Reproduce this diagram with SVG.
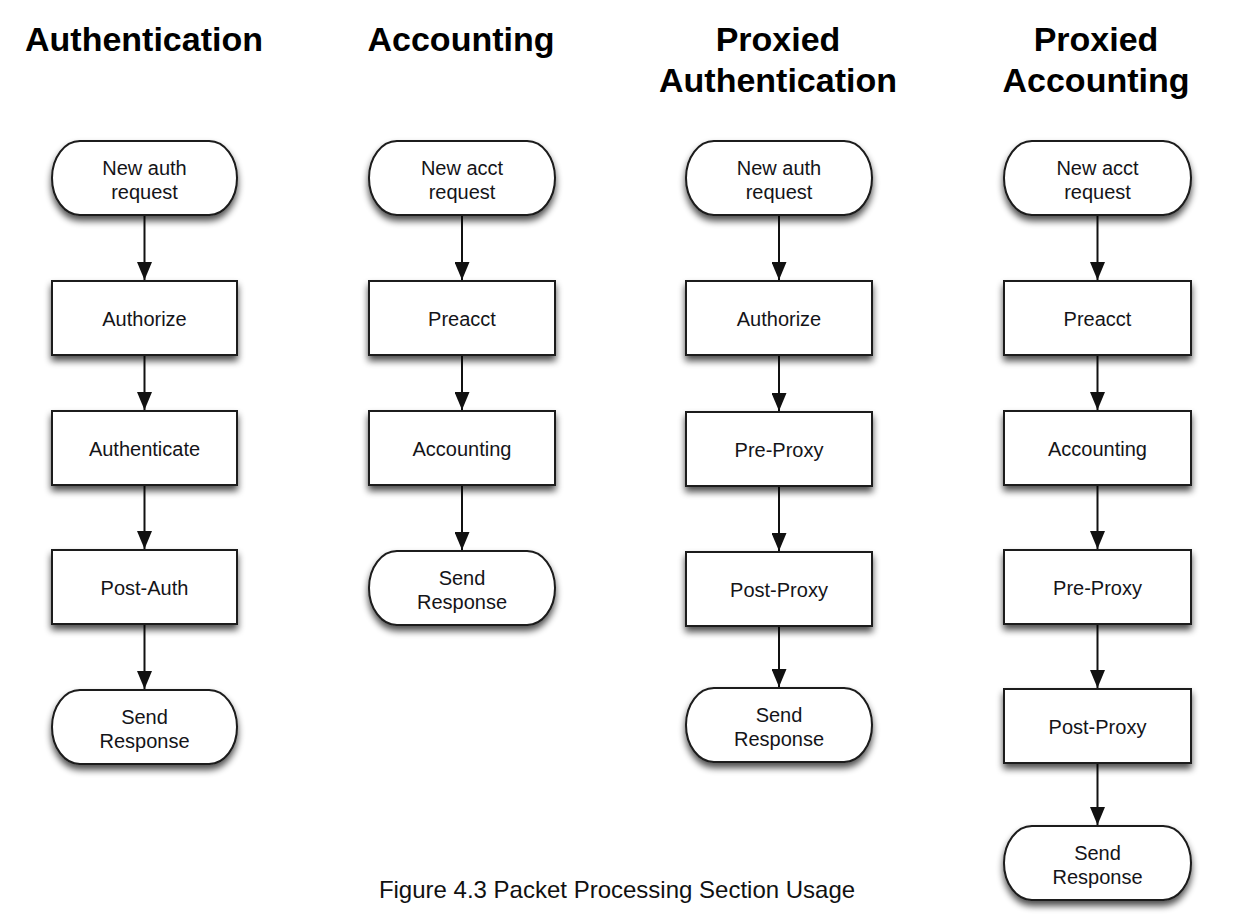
<svg xmlns="http://www.w3.org/2000/svg" width="1240" height="922" viewBox="0 0 1240 922">
<defs>
<filter id="sh" x="-10%" y="-20%" width="120%" height="150%">
<feGaussianBlur in="SourceAlpha" stdDeviation="3.5"/>
<feOffset dx="0" dy="5" result="b"/>
<feComponentTransfer><feFuncA type="linear" slope="0.7"/></feComponentTransfer>
<feMerge><feMergeNode/><feMergeNode in="SourceGraphic"/></feMerge>
</filter>
<marker id="arr" markerUnits="userSpaceOnUse" markerWidth="18" markerHeight="15" refX="18" refY="7.5" orient="auto">
<path d="M0,0 L18,7.5 L0,15 z" fill="#111"/>
</marker>
<style>
.box{fill:#fff;stroke:#1a1a1a;stroke-width:2;filter:url(#sh)}
.lbl{font-family:"Liberation Sans",Arial,Helvetica,sans-serif;font-size:20px;fill:#141418;text-anchor:middle}
.hd{font-family:"Liberation Sans",Arial,sans-serif;font-weight:bold;font-size:34px;fill:#000;text-anchor:middle}
.cap{font-family:"Liberation Sans",Arial,sans-serif;font-size:24px;fill:#111;text-anchor:middle}
.conn line{stroke:#111;stroke-width:2;marker-end:url(#arr)}
</style>
</defs>
<rect width="1240" height="922" fill="#fff"/>

<g id="headings">
<text class="hd" x="144" y="51">Authentication</text>
<text class="hd" x="461" y="51">Accounting</text>
<text class="hd" x="778" y="51">Proxied</text>
<text class="hd" x="778" y="92">Authentication</text>
<text class="hd" x="1096" y="51">Proxied</text>
<text class="hd" x="1096" y="92">Accounting</text>
</g>

<g id="connectors" class="conn">
<line x1="144.5" y1="215" x2="144.5" y2="280"/>
<line x1="144.5" y1="355" x2="144.5" y2="410"/>
<line x1="144.5" y1="485" x2="144.5" y2="549"/>
<line x1="144.5" y1="624" x2="144.5" y2="689"/>
<line x1="462" y1="215" x2="462" y2="280"/>
<line x1="462" y1="355" x2="462" y2="410"/>
<line x1="462" y1="485" x2="462" y2="550"/>
<line x1="779" y1="215" x2="779" y2="280"/>
<line x1="779" y1="355" x2="779" y2="411"/>
<line x1="779" y1="486" x2="779" y2="551"/>
<line x1="779" y1="626" x2="779" y2="687"/>
<line x1="1097.5" y1="215" x2="1097.5" y2="280"/>
<line x1="1097.5" y1="355" x2="1097.5" y2="410"/>
<line x1="1097.5" y1="485" x2="1097.5" y2="549"/>
<line x1="1097.5" y1="624" x2="1097.5" y2="688"/>
<line x1="1097.5" y1="763" x2="1097.5" y2="825"/>
</g>

<g id="auth-new">
<rect class="box" x="52" y="141" width="185" height="74" rx="28" ry="37"/>
<text class="lbl" x="144.5" y="175">New auth</text>
<text class="lbl" x="144.5" y="199">request</text>
</g>
<g id="auth-authorize">
<rect class="box" x="52" y="281" width="185" height="74"/>
<text class="lbl" x="144.5" y="326">Authorize</text>
</g>
<g id="auth-authenticate">
<rect class="box" x="52" y="411" width="185" height="74"/>
<text class="lbl" x="144.5" y="456">Authenticate</text>
</g>
<g id="auth-postauth">
<rect class="box" x="52" y="550" width="185" height="74"/>
<text class="lbl" x="144.5" y="595">Post-Auth</text>
</g>
<g id="auth-send">
<rect class="box" x="52" y="690" width="185" height="74" rx="28" ry="37"/>
<text class="lbl" x="144.5" y="724">Send</text>
<text class="lbl" x="144.5" y="748">Response</text>
</g>

<g id="acct-new">
<rect class="box" x="369" y="141" width="186" height="74" rx="28" ry="37"/>
<text class="lbl" x="462" y="175">New acct</text>
<text class="lbl" x="462" y="199">request</text>
</g>
<g id="acct-preacct">
<rect class="box" x="369" y="281" width="186" height="74"/>
<text class="lbl" x="462" y="326">Preacct</text>
</g>
<g id="acct-accounting">
<rect class="box" x="369" y="411" width="186" height="74"/>
<text class="lbl" x="462" y="456">Accounting</text>
</g>
<g id="acct-send">
<rect class="box" x="369" y="551" width="186" height="74" rx="28" ry="37"/>
<text class="lbl" x="462" y="585">Send</text>
<text class="lbl" x="462" y="609">Response</text>
</g>

<g id="pauth-new">
<rect class="box" x="686" y="141" width="186" height="74" rx="28" ry="37"/>
<text class="lbl" x="779" y="175">New auth</text>
<text class="lbl" x="779" y="199">request</text>
</g>
<g id="pauth-authorize">
<rect class="box" x="686" y="281" width="186" height="74"/>
<text class="lbl" x="779" y="326">Authorize</text>
</g>
<g id="pauth-preproxy">
<rect class="box" x="686" y="412" width="186" height="74"/>
<text class="lbl" x="779" y="457">Pre-Proxy</text>
</g>
<g id="pauth-postproxy">
<rect class="box" x="686" y="552" width="186" height="74"/>
<text class="lbl" x="779" y="597">Post-Proxy</text>
</g>
<g id="pauth-send">
<rect class="box" x="686" y="688" width="186" height="74" rx="28" ry="37"/>
<text class="lbl" x="779" y="722">Send</text>
<text class="lbl" x="779" y="746">Response</text>
</g>

<g id="pacct-new">
<rect class="box" x="1004" y="141" width="187" height="74" rx="28" ry="37"/>
<text class="lbl" x="1097.5" y="175">New acct</text>
<text class="lbl" x="1097.5" y="199">request</text>
</g>
<g id="pacct-preacct">
<rect class="box" x="1004" y="281" width="187" height="74"/>
<text class="lbl" x="1097.5" y="326">Preacct</text>
</g>
<g id="pacct-accounting">
<rect class="box" x="1004" y="411" width="187" height="74"/>
<text class="lbl" x="1097.5" y="456">Accounting</text>
</g>
<g id="pacct-preproxy">
<rect class="box" x="1004" y="550" width="187" height="74"/>
<text class="lbl" x="1097.5" y="595">Pre-Proxy</text>
</g>
<g id="pacct-postproxy">
<rect class="box" x="1004" y="689" width="187" height="74"/>
<text class="lbl" x="1097.5" y="734">Post-Proxy</text>
</g>
<g id="pacct-send">
<rect class="box" x="1004" y="826" width="187" height="74" rx="28" ry="37"/>
<text class="lbl" x="1097.5" y="860">Send</text>
<text class="lbl" x="1097.5" y="884">Response</text>
</g>

<text class="cap" x="617" y="898">Figure 4.3 Packet Processing Section Usage</text>
</svg>
